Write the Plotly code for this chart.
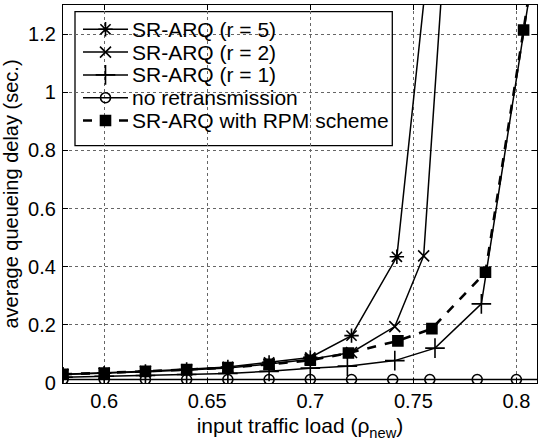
import plotly.graph_objects as go

# ---- data: average queueing delay (s) vs. input traffic load ----
x_r5 = [0.58, 0.60, 0.62, 0.64, 0.66, 0.68, 0.70, 0.72, 0.742, 0.76]
y_r5 = [0.030, 0.034, 0.040, 0.047, 0.055, 0.071, 0.088, 0.163, 0.434, 1.64]

x_r2 = [0.58, 0.60, 0.62, 0.64, 0.66, 0.68, 0.70, 0.72, 0.741, 0.755, 0.77]
y_r2 = [0.029, 0.033, 0.039, 0.045, 0.052, 0.065, 0.082, 0.105, 0.194, 0.437, 2.0]

x_r1 = [0.58, 0.60, 0.62, 0.64, 0.66, 0.68, 0.70, 0.718, 0.741, 0.7605, 0.783, 0.81]
y_r1 = [0.020, 0.023, 0.026, 0.029, 0.033, 0.040, 0.051, 0.058, 0.077, 0.120, 0.272, 1.5]

x_none = [0.58, 0.60, 0.62, 0.64, 0.66, 0.68, 0.70, 0.72, 0.74, 0.758, 0.781, 0.80, 0.82]
y_none = [0.012] * len(x_none)

x_rpm = [0.58, 0.60, 0.62, 0.64, 0.66, 0.68, 0.70, 0.7185, 0.7425, 0.759, 0.785, 0.8035, 0.82]
y_rpm = [0.030, 0.034, 0.040, 0.046, 0.053, 0.064, 0.078, 0.103, 0.145, 0.187, 0.381, 1.214, 2.0]

series_names = ["SR-ARQ (r = 5)", "SR-ARQ (r = 2)", "SR-ARQ (r = 1)",
                "no retransmission", "SR-ARQ with RPM scheme"]
x_ticks = [0.6, 0.65, 0.7, 0.75, 0.8]
y_ticks = [0, 0.2, 0.4, 0.6, 0.8, 1, 1.2]

# ---- page geometry (pixels) ----
W, H = 540, 445
ML, MR, MT, MB = 63, 3, 5, 62
PW, PH = W - ML - MR, H - MT - MB

FONT = "Liberation Sans, Arial, Helvetica, sans-serif"
INK = "black"


def fx(xp):
    """pixel column -> paper x"""
    return (xp - ML) / PW


def fy(yp):
    """pixel row -> paper y"""
    return (H - MB - yp) / PH


styles = [
    dict(symbol="asterisk-open", size=12, dash="solid", lw=1.5),
    dict(symbol="x-thin-open", size=11, dash="solid", lw=1.5),
    dict(symbol="cross-thin-open", size=14, dash="solid", lw=1.5),
    dict(symbol="circle-open", size=10, dash="solid", lw=1.5),
    dict(symbol="square", size=10, dash="dash", lw=2.6),
]
xs = [x_r5, x_r2, x_r1, x_none, x_rpm]
ys = [y_r5, y_r2, y_r1, y_none, y_rpm]

fig = go.Figure()
for name, st, xv, yv in zip(series_names, styles, xs, ys):
    fig.add_trace(go.Scatter(
        x=xv, y=yv, name=name, mode="lines+markers", showlegend=False,
        line=dict(color=INK, width=st["lw"], dash=st["dash"]),
        marker=dict(symbol=st["symbol"], size=st["size"], color=INK,
                    line=dict(color=INK, width=1.6)),
    ))

# ---- hand-built legend box (MATLAB-like compact rows) ----
box_l, box_t, box_r, box_b = 75, 11.7, 392.3, 145.7
row0, row_step = 29.3, 22.8
samp_l, samp_r, samp_m, text_x = 83, 128, 105.5, 130

shapes = [dict(type="rect", xref="paper", yref="paper", layer="between",
               x0=fx(box_l), x1=fx(box_r), y0=fy(box_b), y1=fy(box_t),
               fillcolor="white", line=dict(color=INK, width=1.3))]
annotations = []
for i, (name, st) in enumerate(zip(series_names, styles)):
    ry = row0 + i * row_step
    fig.add_trace(go.Scatter(
        x=[fx(samp_l), fx(samp_m), fx(samp_r)], y=[fy(ry)] * 3,
        xaxis="x2", yaxis="y2", mode="lines", showlegend=False,
        hoverinfo="skip", cliponaxis=False,
        line=dict(color=INK, width=st["lw"], dash=st["dash"]),
    ))
    fig.add_trace(go.Scatter(
        x=[fx(samp_m)], y=[fy(ry)], xaxis="x2", yaxis="y2",
        mode="markers", showlegend=False, hoverinfo="skip", cliponaxis=False,
        marker=dict(symbol=st["symbol"], size=st["size"], color=INK,
                    line=dict(color=INK, width=1.6)),
    ))
    annotations.append(dict(
        xref="paper", yref="paper", x=fx(text_x), y=fy(ry),
        xanchor="left", yanchor="middle", showarrow=False, text=name,
        font=dict(family=FONT, size=21, color=INK),
    ))

axis_common = dict(
    showline=True, linecolor=INK, linewidth=1.3, mirror="ticks",
    ticks="inside", ticklen=5, tickwidth=1, tickcolor=INK,
    showgrid=True, gridcolor="#666", gridwidth=1, griddash="dot",
    zeroline=False, tickfont=dict(family=FONT, size=20, color=INK),
)

fig.update_layout(
    width=W, height=H,
    margin=dict(l=ML, r=MR, t=MT, b=MB, pad=0),
    paper_bgcolor="white", plot_bgcolor="white",
    font=dict(family=FONT, size=20, color=INK),
    xaxis=dict(range=[0.58, 0.81], tickvals=x_ticks,
               ticktext=[f"{v:g}" for v in x_ticks],
               title=dict(text="input traffic load (ρ<sub>new</sub>)",
                          font=dict(family=FONT, size=21, color=INK),
                          standoff=7),
               **axis_common),
    yaxis=dict(range=[0, 1.3], tickvals=y_ticks,
               ticktext=[f"{v:g}" for v in y_ticks],
               title=dict(text="average queueing delay (sec.)",
                          font=dict(family=FONT, size=20, color=INK),
                          standoff=5),
               ticklabelstandoff=2,
               **axis_common),
    xaxis2=dict(overlaying="x", range=[0, 1], visible=False, anchor="y2"),
    yaxis2=dict(overlaying="y", range=[0, 1], visible=False, anchor="x2"),
    shapes=shapes,
    annotations=annotations,
    showlegend=False,
)

fig.write_html("out.html")
